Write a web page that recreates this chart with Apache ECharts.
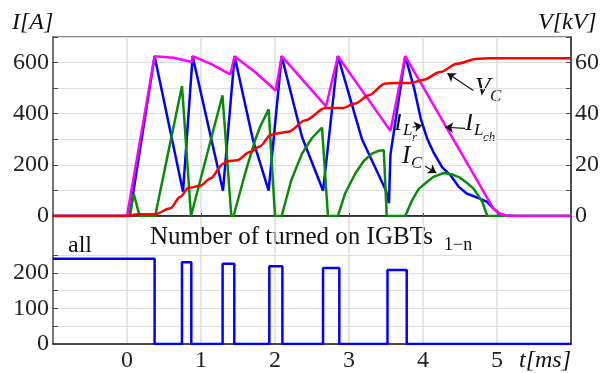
<!DOCTYPE html>
<html>
<head>
<meta charset="utf-8">
<script src="https://cdn.jsdelivr.net/npm/echarts@6/dist/echarts.min.js"></script>
<style>
  html, body { margin: 0; padding: 0; background: #fff; }
  #chart { width: 604px; height: 373px; }
</style>
</head>
<body>
<div id="chart"></div>
<script>
// time axis (ms) and tick labels
const xTicks = [0, 1, 2, 3, 4, 5];

// I_Lch (magenta)
const lchT = [-1, 0, 0.373, 0.63, 0.878, 0.887, 1.148, 1.396, 1.454, 1.73, 2.01, 2.09, 2.69, 2.85, 3.56, 3.76, 4.95, 5.03, 5.12, 5.25, 6];
const lchI = [0, 0, 625, 619, 602, 625, 593, 554, 625, 563, 491, 625, 429, 625, 333, 625, 30, 10, 2, 0, 0];

// I_Lr (blue)
const lrT = [-1, 0.035, 0.373, 0.757, 0.887, 1.297, 1.454, 1.70, 1.914, 2.09, 2.365, 2.65, 2.85, 3.176, 3.50, 3.54, 3.56, 3.76, 3.88, 3.97, 4.06, 4.14, 4.26, 4.37, 4.48, 4.59, 4.75, 4.86, 4.95, 5.03, 5.12, 5.25, 6];
const lrI = [0, 0, 625, 95, 625, 99, 625, 300, 99, 625, 309, 99, 625, 300, 99, 50, 240, 625, 500, 380, 300, 250, 190, 160, 115, 88, 70, 56, 30, 10, 2, 0, 0];

// I_C (green)
const cT = [-1, 0.04, 0.09, 0.17, 0.38, 0.743, 0.865, 0.878, 1.29, 1.41, 1.44, 1.60, 1.73, 1.80, 1.914, 2.0, 2.09, 2.22, 2.365, 2.50, 2.635, 2.716, 2.85, 2.95, 3.085, 3.20, 3.31, 3.40, 3.47, 3.51, 3.76, 3.85, 3.94, 4.06, 4.14, 4.28, 4.40, 4.50, 4.60, 4.68, 4.75, 4.80, 4.87, 6];
const cI = [0, 0, 88, 0, 0, 508, 0, 0, 472, 0, 0, 170, 296, 350, 417, 0, 0, 140, 244, 305, 346, 0, 0, 90, 166, 215, 244, 255, 257, 0, 0, 60, 105, 135, 153, 168, 162, 150, 128, 108, 78, 56, 0, 0];

// V_C (red, kV)
const vcT = [-1, 0, 0.135, 0.38, 0.585, 0.72, 0.83, 0.99, 1.126, 1.305, 1.35, 1.486, 1.666, 1.80, 1.936, 2.0, 2.18, 2.41, 2.68, 2.905, 3.085, 3.265, 3.49, 3.63, 3.83, 4.01, 4.23, 4.46, 4.73, 4.91, 6];
const vcV = [0, 0, 0.65, 0.7, 3.0, 7.5, 11.0, 11.8, 14.7, 20.5, 21.4, 21.8, 25.1, 27.3, 31.6, 32.2, 32.9, 37.4, 42.2, 42.2, 44, 47.2, 51.8, 52, 52, 53.3, 56.3, 59.5, 61.5, 61.7, 61.7];

// number of turned on IGBTs (step changes)
const igbtT = [-1, 0.373, 0.743, 0.869, 1.292, 1.45, 1.923, 2.10, 2.649, 2.869, 3.52, 3.78, 6];
const igbtN = [240, 0, 230, 0, 226, 0, 219, 0, 214, 0, 208, 0, 0];

// annotation arrows [fromT, fromI, toT, toI]
const arrows = [
  [4.68, 491, 4.33, 558],
  [4.57, 343, 4.30, 347],
  [3.86, 347, 3.99, 355],
  [4.03, 195, 4.18, 168]
];

const zip = (a, b) => a.map((v, i) => [v, b[i]]);
const serif = "'Liberation Serif', 'DejaVu Serif', serif";
const gridCol = '#dddddd';
const tickFont = { color: '#222', fontFamily: serif, fontSize: 24 };

const chart = echarts.init(document.getElementById('chart'), null, { renderer: 'canvas' });

const txt = (x, y, s, size, italic) => ({
  type: 'text', left: x, top: y,
  style: { text: s, font: (italic ? 'italic ' : '') + size + 'px ' + serif, fill: '#111' }
});

const option = {
  animation: false,
  grid: [
    { left: 53, right: 33, top: 37, height: 179, show: true, borderColor: '#666', borderWidth: 1.5 },
    { left: 53, right: 33, top: 216, height: 130 }
  ],
  xAxis: [
    {
      type: 'value', gridIndex: 0, min: -1, max: 6, interval: 1,
      axisLabel: { show: false },
      axisLine: { onZero: false, lineStyle: { color: '#111', width: 1.5 } },
      axisTick: { inside: true, length: 3, lineStyle: { color: '#555' } },
      splitLine: { lineStyle: { color: gridCol, width: 1.5 } }
    },
    {
      type: 'value', gridIndex: 1, min: -1, max: 6, interval: 1,
      axisLabel: Object.assign({ margin: 5,
        formatter: v => (xTicks.indexOf(v) >= 0 ? String(v) : '') }, tickFont),
      axisLine: { onZero: false, lineStyle: { color: '#111', width: 1.5 } },
      axisTick: { show: false },
      splitLine: { lineStyle: { color: gridCol, width: 1.5 } }
    }
  ],
  yAxis: [
    {
      type: 'value', gridIndex: 0, min: 0, max: 700, interval: 100,
      axisLabel: Object.assign({ margin: 4,
        formatter: v => (v % 200 === 0 && v < 700 ? String(v) : '') }, tickFont),
      axisLine: { show: true, onZero: false, lineStyle: { color: '#555', width: 1.5 } },
      axisTick: { inside: true, length: 5, lineStyle: { color: '#444' } },
      splitLine: { lineStyle: { color: gridCol } }
    },
    {
      type: 'value', gridIndex: 0, position: 'right', min: 0, max: 70, interval: 10,
      axisLabel: Object.assign({ margin: 4,
        formatter: v => (v % 20 === 0 && v < 70 ? String(v) : '') }, tickFont),
      axisLine: { show: true, onZero: false, lineStyle: { color: '#222', width: 1.5 } },
      axisTick: { inside: true, length: 5, lineStyle: { color: '#444' } },
      splitLine: { show: false }
    },
    {
      type: 'value', gridIndex: 1, min: 0, max: 360, interval: 50,
      axisLabel: Object.assign({ margin: 4,
        formatter: v => (v % 100 === 0 && v <= 200 ? String(v) : '') }, tickFont),
      axisLine: { show: true, onZero: false, lineStyle: { color: '#555', width: 1.5 } },
      axisTick: { inside: true, length: 5, lineStyle: { color: '#444' }, customValues: [0, 50, 100, 150, 200, 250] },
      splitLine: { lineStyle: { color: [gridCol, gridCol, gridCol, gridCol, gridCol, gridCol, 'transparent', 'transparent', 'transparent'] } }
    },
    {
      type: 'value', gridIndex: 1, position: 'right', min: 0, max: 360,
      axisLabel: { show: false },
      axisLine: { show: true, onZero: false, lineStyle: { color: '#222', width: 1.5 } },
      axisTick: { show: false },
      splitLine: { show: false }
    }
  ],
  series: [
    {
      name: 'I_Lr', type: 'line', xAxisIndex: 0, yAxisIndex: 0,
      data: zip(lrT, lrI), showSymbol: false,
      lineStyle: { color: '#0000ff', width: 2.5 }, itemStyle: { color: '#0000ff' },
      markLine: {
        silent: true, symbol: ['none', 'arrow'], symbolSize: 8,
        label: { show: false },
        lineStyle: { color: '#111', width: 1.2, type: 'solid' },
        data: arrows.map(a => [{ coord: [a[0], a[1]] }, { coord: [a[2], a[3]] }])
      }
    },
    {
      name: 'I_C', type: 'line', xAxisIndex: 0, yAxisIndex: 0,
      data: zip(cT, cI), showSymbol: false,
      lineStyle: { color: '#0a8a0a', width: 2.5 }, itemStyle: { color: '#0a8a0a' }
    },
    {
      name: 'I_Lch', type: 'line', xAxisIndex: 0, yAxisIndex: 0,
      data: zip(lchT, lchI), showSymbol: false,
      lineStyle: { color: '#ff00ff', width: 2.5 }, itemStyle: { color: '#ff00ff' }
    },
    {
      name: 'V_C', type: 'line', xAxisIndex: 0, yAxisIndex: 1,
      data: zip(vcT, vcV), showSymbol: false, smooth: 0.3, smoothMonotone: 'x',
      lineStyle: { color: '#ff0000', width: 2.5 }, itemStyle: { color: '#ff0000' }
    },
    {
      name: 'IGBTs', type: 'line', xAxisIndex: 1, yAxisIndex: 2,
      data: zip(igbtT, igbtN), showSymbol: false, step: 'end',
      lineStyle: { color: '#0000ff', width: 2.5 }, itemStyle: { color: '#0000ff' }
    }
  ],
  graphic: [
    txt(12, 11, 'I[A]', 24, true),
    txt(538, 11, 'V[kV]', 24, true),
    txt(519, 349, 't[ms]', 24, true),
    txt(68, 234, 'all', 24, false),
    txt(150, 225, 'Number of turned on IGBTs', 25, false),
    txt(444, 236, '1\u2212n', 18, false),
    txt(475, 76, 'V', 25, true),
    txt(490, 88, 'C', 17, true),
    txt(465, 111, 'I', 25, true),
    txt(474, 122, 'L', 17, true),
    txt(483, 131, 'ch', 13, true),
    txt(394, 111, 'I', 25, true),
    txt(403, 122, 'L', 17, true),
    txt(412, 131, 'r', 13, true),
    txt(402, 144, 'I', 25, true),
    txt(411, 155, 'C', 17, true)
  ]
};

chart.setOption(option);
</script>
</body>
</html>
